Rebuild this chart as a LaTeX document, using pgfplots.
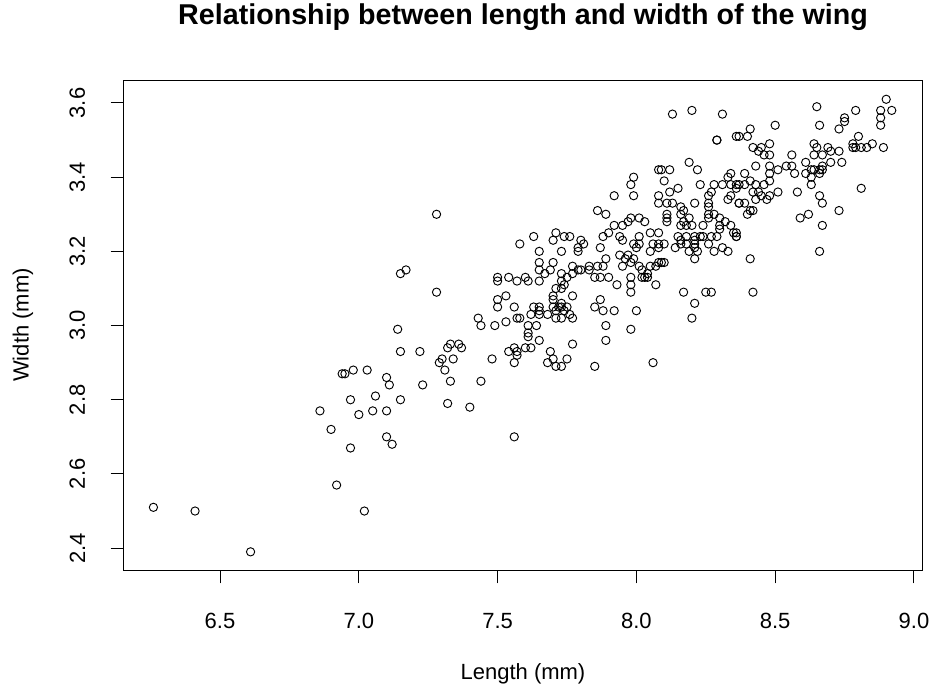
\documentclass[border=0pt]{standalone}
\usepackage{fontspec}
\setmainfont{Liberation Sans}
\usepackage{pgfplots}
\pgfplotsset{compat=1.18}

\pgfplotstableread{
x y
6.26 2.51
6.41 2.50
6.61 2.39
6.86 2.77
6.90 2.72
6.92 2.57
6.94 2.87
6.95 2.87
6.98 2.88
7.03 2.88
7.10 2.86
7.11 2.84
7.23 2.84
6.97 2.80
7.06 2.81
7.15 2.80
7.00 2.76
7.05 2.77
7.10 2.77
7.10 2.70
7.12 2.68
6.97 2.67
7.02 2.50
7.28 3.30
7.15 3.14
7.17 3.15
7.28 3.09
7.14 2.99
7.15 2.93
7.22 2.93
7.32 2.94
7.33 2.95
7.30 2.91
7.29 2.90
7.34 2.91
7.31 2.88
7.33 2.85
7.32 2.79
7.36 2.95
7.37 2.94
7.63 3.24
7.58 3.22
7.71 3.25
7.70 3.23
7.65 3.20
7.70 3.17
7.65 3.17
7.65 3.15
7.67 3.14
7.50 3.13
7.50 3.12
7.54 3.13
7.57 3.12
7.60 3.13
7.61 3.12
7.65 3.12
7.53 3.08
7.50 3.07
7.50 3.05
7.56 3.05
7.63 3.05
7.65 3.05
7.65 3.04
7.70 3.07
7.70 3.05
7.72 3.05
7.62 3.03
7.65 3.03
7.68 3.03
7.71 3.02
7.57 3.02
7.58 3.02
7.43 3.02
7.44 3.00
7.49 3.00
7.53 3.01
7.61 3.00
7.61 2.98
7.61 2.97
7.64 3.00
7.65 2.96
7.56 2.94
7.57 2.93
7.54 2.93
7.56 2.90
7.57 2.92
7.60 2.94
7.62 2.94
7.69 2.93
7.68 2.90
7.71 2.89
7.48 2.91
7.44 2.85
7.40 2.78
7.56 2.70
7.99 3.40
7.98 3.38
7.99 3.35
7.92 3.35
7.86 3.31
7.89 3.30
8.08 3.42
8.08 3.35
8.08 3.33
7.92 3.27
7.95 3.27
7.97 3.28
7.98 3.29
8.01 3.29
8.03 3.28
7.90 3.25
7.88 3.24
7.87 3.21
7.74 3.24
7.76 3.24
7.80 3.23
7.81 3.22
7.79 3.21
7.79 3.20
7.73 3.20
7.94 3.24
7.95 3.23
8.01 3.24
8.01 3.22
8.00 3.21
7.99 3.22
8.05 3.25
8.05 3.20
8.08 3.25
8.08 3.21
7.69 3.15
7.89 3.18
7.86 3.16
7.83 3.16
7.83 3.15
7.88 3.16
7.77 3.16
7.79 3.15
7.80 3.15
7.77 3.14
7.75 3.13
7.73 3.14
7.73 3.12
7.94 3.19
7.97 3.19
7.96 3.18
7.98 3.17
7.95 3.16
7.99 3.18
8.01 3.16
8.05 3.16
8.08 3.17
7.85 3.13
7.87 3.13
7.90 3.13
7.98 3.13
7.98 3.11
7.98 3.09
8.02 3.13
8.04 3.13
7.93 3.11
8.07 3.11
7.74 3.11
7.71 3.10
7.73 3.10
7.77 3.08
7.70 3.08
7.73 3.06
7.73 3.05
7.75 3.05
7.71 3.04
7.74 3.04
7.76 3.03
7.77 3.02
7.73 3.02
7.87 3.07
7.85 3.05
7.88 3.04
7.92 3.04
8.00 3.04
7.89 3.00
7.98 2.99
7.89 2.96
7.77 2.95
7.70 2.91
7.75 2.91
7.73 2.89
7.85 2.89
8.06 2.90
8.13 3.57
8.20 3.58
8.31 3.57
8.29 3.50
8.29 3.50
8.36 3.51
8.19 3.44
8.22 3.42
8.09 3.42
8.12 3.42
8.10 3.39
8.23 3.38
8.28 3.38
8.27 3.36
8.31 3.38
8.34 3.38
8.33 3.40
8.37 3.38
8.15 3.37
8.12 3.36
8.11 3.33
8.13 3.33
8.26 3.35
8.26 3.33
8.33 3.34
8.37 3.33
8.16 3.32
8.17 3.31
8.21 3.33
8.11 3.30
8.11 3.29
8.11 3.28
8.16 3.30
8.19 3.29
8.16 3.27
8.18 3.27
8.17 3.28
8.20 3.27
8.26 3.32
8.26 3.30
8.26 3.29
8.28 3.30
8.30 3.29
8.32 3.28
8.30 3.27
8.34 3.27
8.24 3.27
8.23 3.24
8.30 3.26
8.29 3.24
8.27 3.24
8.35 3.25
8.36 3.24
8.15 3.24
8.16 3.23
8.18 3.24
8.21 3.24
8.21 3.23
8.24 3.24
8.14 3.21
8.16 3.22
8.18 3.22
8.21 3.22
8.22 3.20
8.19 3.20
8.21 3.18
8.21 3.21
8.06 3.22
8.08 3.22
8.10 3.22
8.26 3.22
8.31 3.21
8.28 3.20
8.09 3.17
8.10 3.17
8.07 3.16
8.04 3.14
8.03 3.13
8.02 3.15
8.17 3.09
8.21 3.06
8.20 3.02
8.25 3.09
8.27 3.09
8.33 3.20
8.65 3.59
8.66 3.54
8.50 3.54
8.37 3.51
8.41 3.53
8.40 3.51
8.48 3.49
8.42 3.48
8.45 3.48
8.44 3.47
8.46 3.46
8.48 3.46
8.48 3.43
8.48 3.41
8.48 3.39
8.46 3.38
8.43 3.43
8.39 3.41
8.41 3.39
8.43 3.38
8.51 3.42
8.54 3.43
8.56 3.46
8.56 3.43
8.57 3.41
8.34 3.41
8.36 3.38
8.39 3.38
8.36 3.37
8.34 3.35
8.42 3.36
8.44 3.36
8.45 3.35
8.48 3.35
8.47 3.34
8.43 3.34
8.51 3.36
8.37 3.33
8.39 3.33
8.41 3.31
8.42 3.31
8.40 3.30
8.36 3.25
8.36 3.24
8.41 3.18
8.42 3.09
8.58 3.36
8.59 3.29
8.62 3.30
8.61 3.44
8.63 3.42
8.64 3.42
8.63 3.40
8.61 3.41
8.67 3.43
8.66 3.41
8.63 3.38
8.66 3.35
8.67 3.33
8.64 3.49
8.65 3.48
8.64 3.46
8.67 3.46
8.69 3.48
8.67 3.27
8.66 3.20
8.90 3.61
8.92 3.58
8.88 3.58
8.88 3.56
8.88 3.54
8.79 3.58
8.75 3.56
8.75 3.55
8.73 3.53
8.80 3.51
8.78 3.49
8.79 3.48
8.81 3.48
8.83 3.48
8.85 3.49
8.89 3.48
8.78 3.48
8.70 3.47
8.73 3.47
8.74 3.44
8.70 3.44
8.66 3.42
8.67 3.42
8.81 3.37
8.73 3.31
}\wingdata

\begin{document}
\fontsize{16.5}{19.8}\selectfont
\begin{tikzpicture}
\begin{axis}[
  scale only axis,
  width=598.5pt, height=367.5pt,
  xmin=6.154, xmax=9.029,
  ymin=2.341, ymax=3.662,
  xtick={6.5,7.0,7.5,8.0,8.5,9.0},
  ytick={2.4,2.6,2.8,3.0,3.2,3.4,3.6},
  xtick pos=bottom, ytick pos=left,
  tick align=outside,
  major tick length=10pt,
  tick style={black, line width=0.75pt},
  axis line style={black, line width=0.75pt},
  /pgf/number format/.cd, fixed, fixed zerofill, precision=1, assume math mode=true,
  /pgfplots/.cd,
  ticklabel style={font=\fontsize{16.5}{19.8}\selectfont},
  xticklabel style={anchor=center, yshift=-28pt},
  yticklabel style={rotate=90, anchor=center, yshift=25pt},
  title={Relationship between length and width of the wing},
  title style={font=\fontsize{21.5}{25}\selectfont\bfseries, at={(axis description cs:0.5,1)}, anchor=base, yshift=36pt},
  xlabel={Length (mm)},
  xlabel style={font=\fontsize{16.5}{19.8}\selectfont, at={(axis description cs:0.5,0)}, anchor=center, yshift=-78pt},
  ylabel={Width (mm)},
  ylabel style={font=\fontsize{16.5}{19.8}\selectfont, at={(axis description cs:0,0.5)}, anchor=center, yshift=75.75pt},
]
\addplot[only marks, mark=o, mark size=3.1pt, mark options={line width=0.7pt, black}] table[x=x, y=y] {\wingdata};
\end{axis}
\pgfresetboundingbox
\path ([xshift=-93pt, yshift=-90pt]current axis.south west) rectangle ([xshift=7.5pt, yshift=60pt]current axis.north east);
\end{tikzpicture}
\end{document}
